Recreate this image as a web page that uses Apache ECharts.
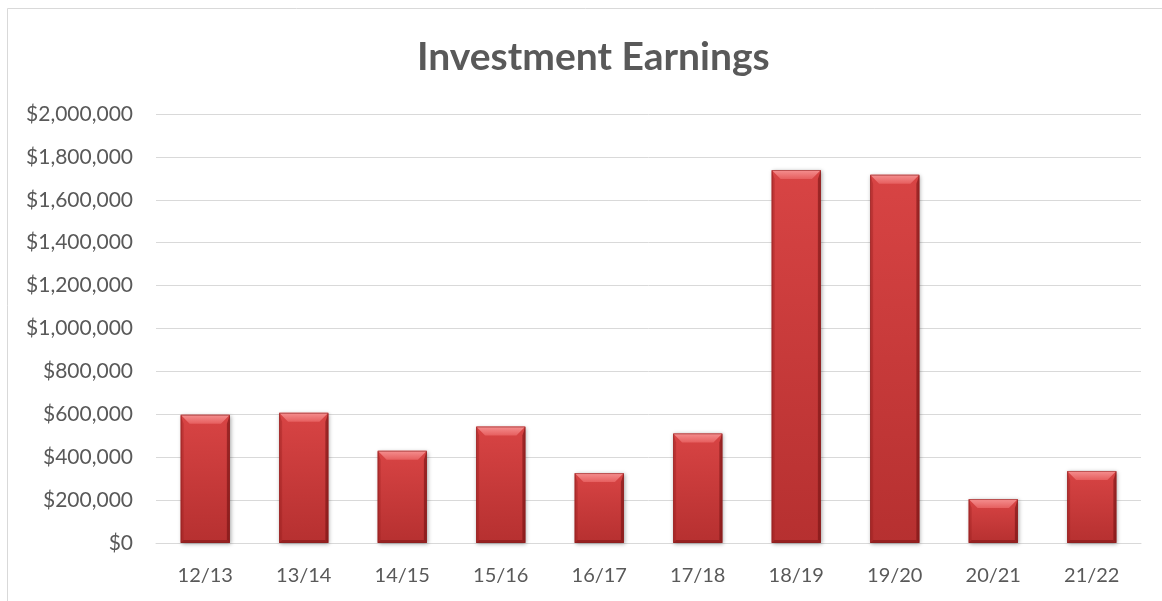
<!DOCTYPE html>
<html>
<head>
<meta charset="utf-8">
<script src="https://cdn.jsdelivr.net/npm/echarts@6/dist/echarts.min.js"></script>
<style>
html,body{margin:0;padding:0;background:#fff;}
#chart{width:1162px;height:601px;}
</style>
</head>
<body>
<div id="chart"></div>
<script>
const categories = ['12/13','13/14','14/15','15/16','16/17','17/18','18/19','19/20','20/21','21/22'];
const earnings = [598000, 607000, 430000, 543000, 326000, 511000, 1739000, 1717000, 205000, 336000];
const chartTitle = 'Investment Earnings';

const chart = echarts.init(document.getElementById('chart'));
const FONT = 'Lato';
const TXT = '#595959';

function renderBar(params, api) {
  const idx = api.value(0);
  const val = api.value(1);
  const topPt = api.coord([idx, val]);
  const basePt = api.coord([idx, 0]);
  const bw = api.size([1, 0])[0] * 0.5;
  const l = topPt[0] - bw / 2, r = topPt[0] + bw / 2;
  const t = topPt[1], b = basePt[1];
  const bv = 9, sv = 3;
  return {
    type: 'group',
    children: [
      { type: 'rect', shape: { x: l, y: t, width: bw, height: b - t },
        style: { fill: new echarts.graphic.LinearGradient(0, 0, 0, 1, [
          { offset: 0, color: '#d84444' }, { offset: 1, color: '#b63030' }]),
          shadowBlur: 4, shadowOffsetX: 1, shadowOffsetY: 1, shadowColor: 'rgba(0,0,0,0.35)' } },
      { type: 'polygon', shape: { points: [[l, t], [l + sv, t + bv], [l + sv, b - sv], [l, b]] },
        style: { fill: 'rgba(150,30,30,0.35)' } },
      { type: 'polygon', shape: { points: [[r, t], [r - sv, t + bv], [r - sv, b - sv], [r, b]] },
        style: { fill: 'rgba(110,15,15,0.55)' } },
      { type: 'polygon', shape: { points: [[l, b], [l + sv, b - sv], [r - sv, b - sv], [r, b]] },
        style: { fill: 'rgba(110,15,15,0.45)' } },
      { type: 'polygon', shape: { points: [[l, t], [r, t], [r - bv, t + bv], [l + bv, t + bv]] },
        style: { fill: new echarts.graphic.LinearGradient(0, 0, 0, 1, [
          { offset: 0, color: '#f59090' }, { offset: 1, color: '#e65f5f' }]) } },
      { type: 'rect', shape: { x: l + 0.5, y: t + 0.5, width: bw - 1, height: b - t - 1 },
        style: { fill: 'none', stroke: '#8a1f1f', lineWidth: 1, opacity: 0.55 } }
    ]
  };
}

chart.setOption({
  backgroundColor: '#ffffff',
  animation: false,
  title: {
    text: chartTitle,
    left: 412,
    top: 33,
    textStyle: { fontFamily: FONT, fontSize: 39, fontWeight: 'bold', color: TXT }
  },
  graphic: [{
    type: 'rect', shape: { x: 7.5, y: 8.5, width: 1200, height: 700 },
    style: { fill: 'none', stroke: '#d9d9d9', lineWidth: 1 }, silent: true, z: -1
  }],
  grid: { left: 156, right: 21, top: 114, bottom: 58 },
  xAxis: {
    type: 'category',
    data: categories,
    axisLine: { show: true, lineStyle: { color: '#d9d9d9', width: 1 } },
    axisTick: { show: false },
    axisLabel: { color: TXT, fontFamily: FONT, fontSize: 20, margin: 23 }
  },
  yAxis: {
    type: 'value',
    min: 0, max: 2000000, interval: 200000,
    axisLine: { show: false },
    axisTick: { show: false },
    splitLine: { lineStyle: { color: '#d9d9d9', width: 1 } },
    axisLabel: {
      color: TXT, fontFamily: FONT, fontSize: 21, margin: 23,
      formatter: v => '$' + v.toLocaleString('en-US')
    }
  },
  series: [{
    type: 'custom',
    renderItem: renderBar,
    encode: { x: 0, y: 1 },
    data: earnings.map((v, i) => [i, v])
  }]
});
</script>
</body>
</html>
